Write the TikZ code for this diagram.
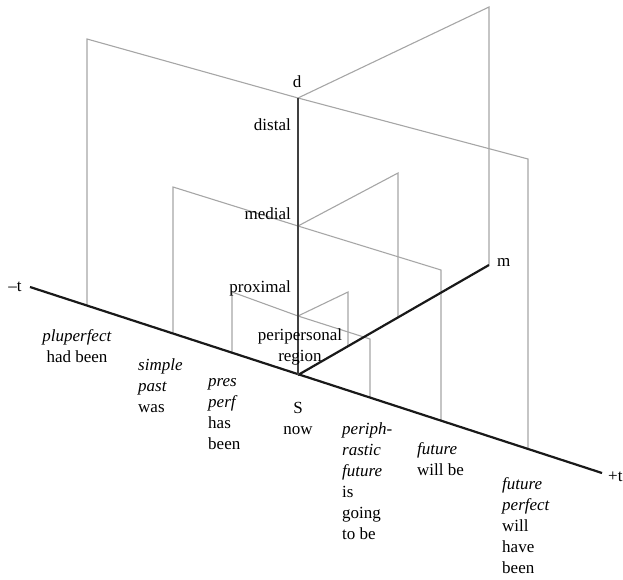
\documentclass[tikz,border=0pt]{standalone}
\usepackage{fontspec}
\setmainfont{Liberation Serif}
\begin{document}
\begin{tikzpicture}[x=1pt,y=-1pt,
  plane/.style={draw=black!35, line width=1.1pt},
  axisline/.style={draw=black!90, line width=2.2pt},
  lab/.style={font=\fontsize{17}{21}\selectfont, inner sep=0pt},
  tlab/.style={lab, align=left, anchor=north west},
  clab/.style={lab, align=center, anchor=north}]
\useasboundingbox (0,0) rectangle (623,580);
% axis points
\coordinate (S) at (298,375);
\coordinate (tL) at (30,287);
\coordinate (tR) at (602,473);
\coordinate (dT) at (298,98);
\coordinate (mE) at (489,265);
\coordinate (dMed) at (298,226);
\coordinate (dProx) at (298,316);
% distal plane
\coordinate (pl0) at (87,305.5);
\coordinate (pl1) at (87,39);
\coordinate (fp1) at (528,159);
\coordinate (fp0) at (528,449);
\coordinate (dm1) at (489,7);
% medial plane
\coordinate (sp0) at (173,333.5);
\coordinate (sp1) at (173,187);
\coordinate (fw1) at (441,270);
\coordinate (fw0) at (441,420.7);
\coordinate (mm1) at (398,173);
\coordinate (mm0) at (398,317.4);
% proximal plane
\coordinate (pp0) at (232,352.7);
\coordinate (pp1) at (232,292);
\coordinate (pf1) at (370,339);
\coordinate (pf0) at (370,397.6);
\coordinate (pm1) at (348,292);
\coordinate (pm0) at (348,346);
% planes
\draw[plane] (pl0) -- (pl1) -- (dT) -- (fp1) -- (fp0);
\draw[plane] (dT) -- (dm1) -- (mE);
\draw[plane] (sp0) -- (sp1) -- (dMed) -- (fw1) -- (fw0);
\draw[plane] (dMed) -- (mm1) -- (mm0);
\draw[plane] (pp0) -- (pp1) -- (dProx) -- (pf1) -- (pf0);
\draw[plane] (dProx) -- (pm1) -- (pm0);
% axes
\draw[axisline] (tL) -- (tR);
\draw[axisline] (S) -- (mE);
\draw[axisline, draw=black!75, line width=2.6pt] (S) -- (dT);
% axis labels
\node[lab, anchor=base] (tminus) at (15,291) {–t};
\node[lab, anchor=base west] (tplus) at (608,481) {+t};
\node[lab, anchor=base] (dlab) at (297,88) {d};
\node[lab, anchor=base west] (mlab) at (497,266) {m};
\node[lab, anchor=base east] (distal) at (291,131) {distal};
\node[lab, anchor=base east] (medial) at (291,219) {medial};
\node[lab, anchor=base east] (proximal) at (291,292) {proximal};
\node[clab] (peri) at (300,329) {peripersonal\\region};
% tense labels
\node[clab] (plup) at (77,329) {\textit{pluperfect}\\had been};
\node[tlab] (simp) at (138,359) {\textit{simple}\\\textit{past}\\was};
\node[tlab] (pres) at (208,378) {\textit{pres}\\\textit{perf}\\has\\been};
\node[clab] (now) at (298,402) {S\\now};
\node[tlab] (peri2) at (342,422) {\textit{periph-}\\\textit{rastic}\\\textit{future}\\is\\going\\to be};
\node[tlab] (fut) at (417,442) {\textit{future}\\will be};
\node[tlab] (futp) at (502,477) {\textit{future}\\\textit{perfect}\\will\\have\\been};
\end{tikzpicture}
\end{document}
